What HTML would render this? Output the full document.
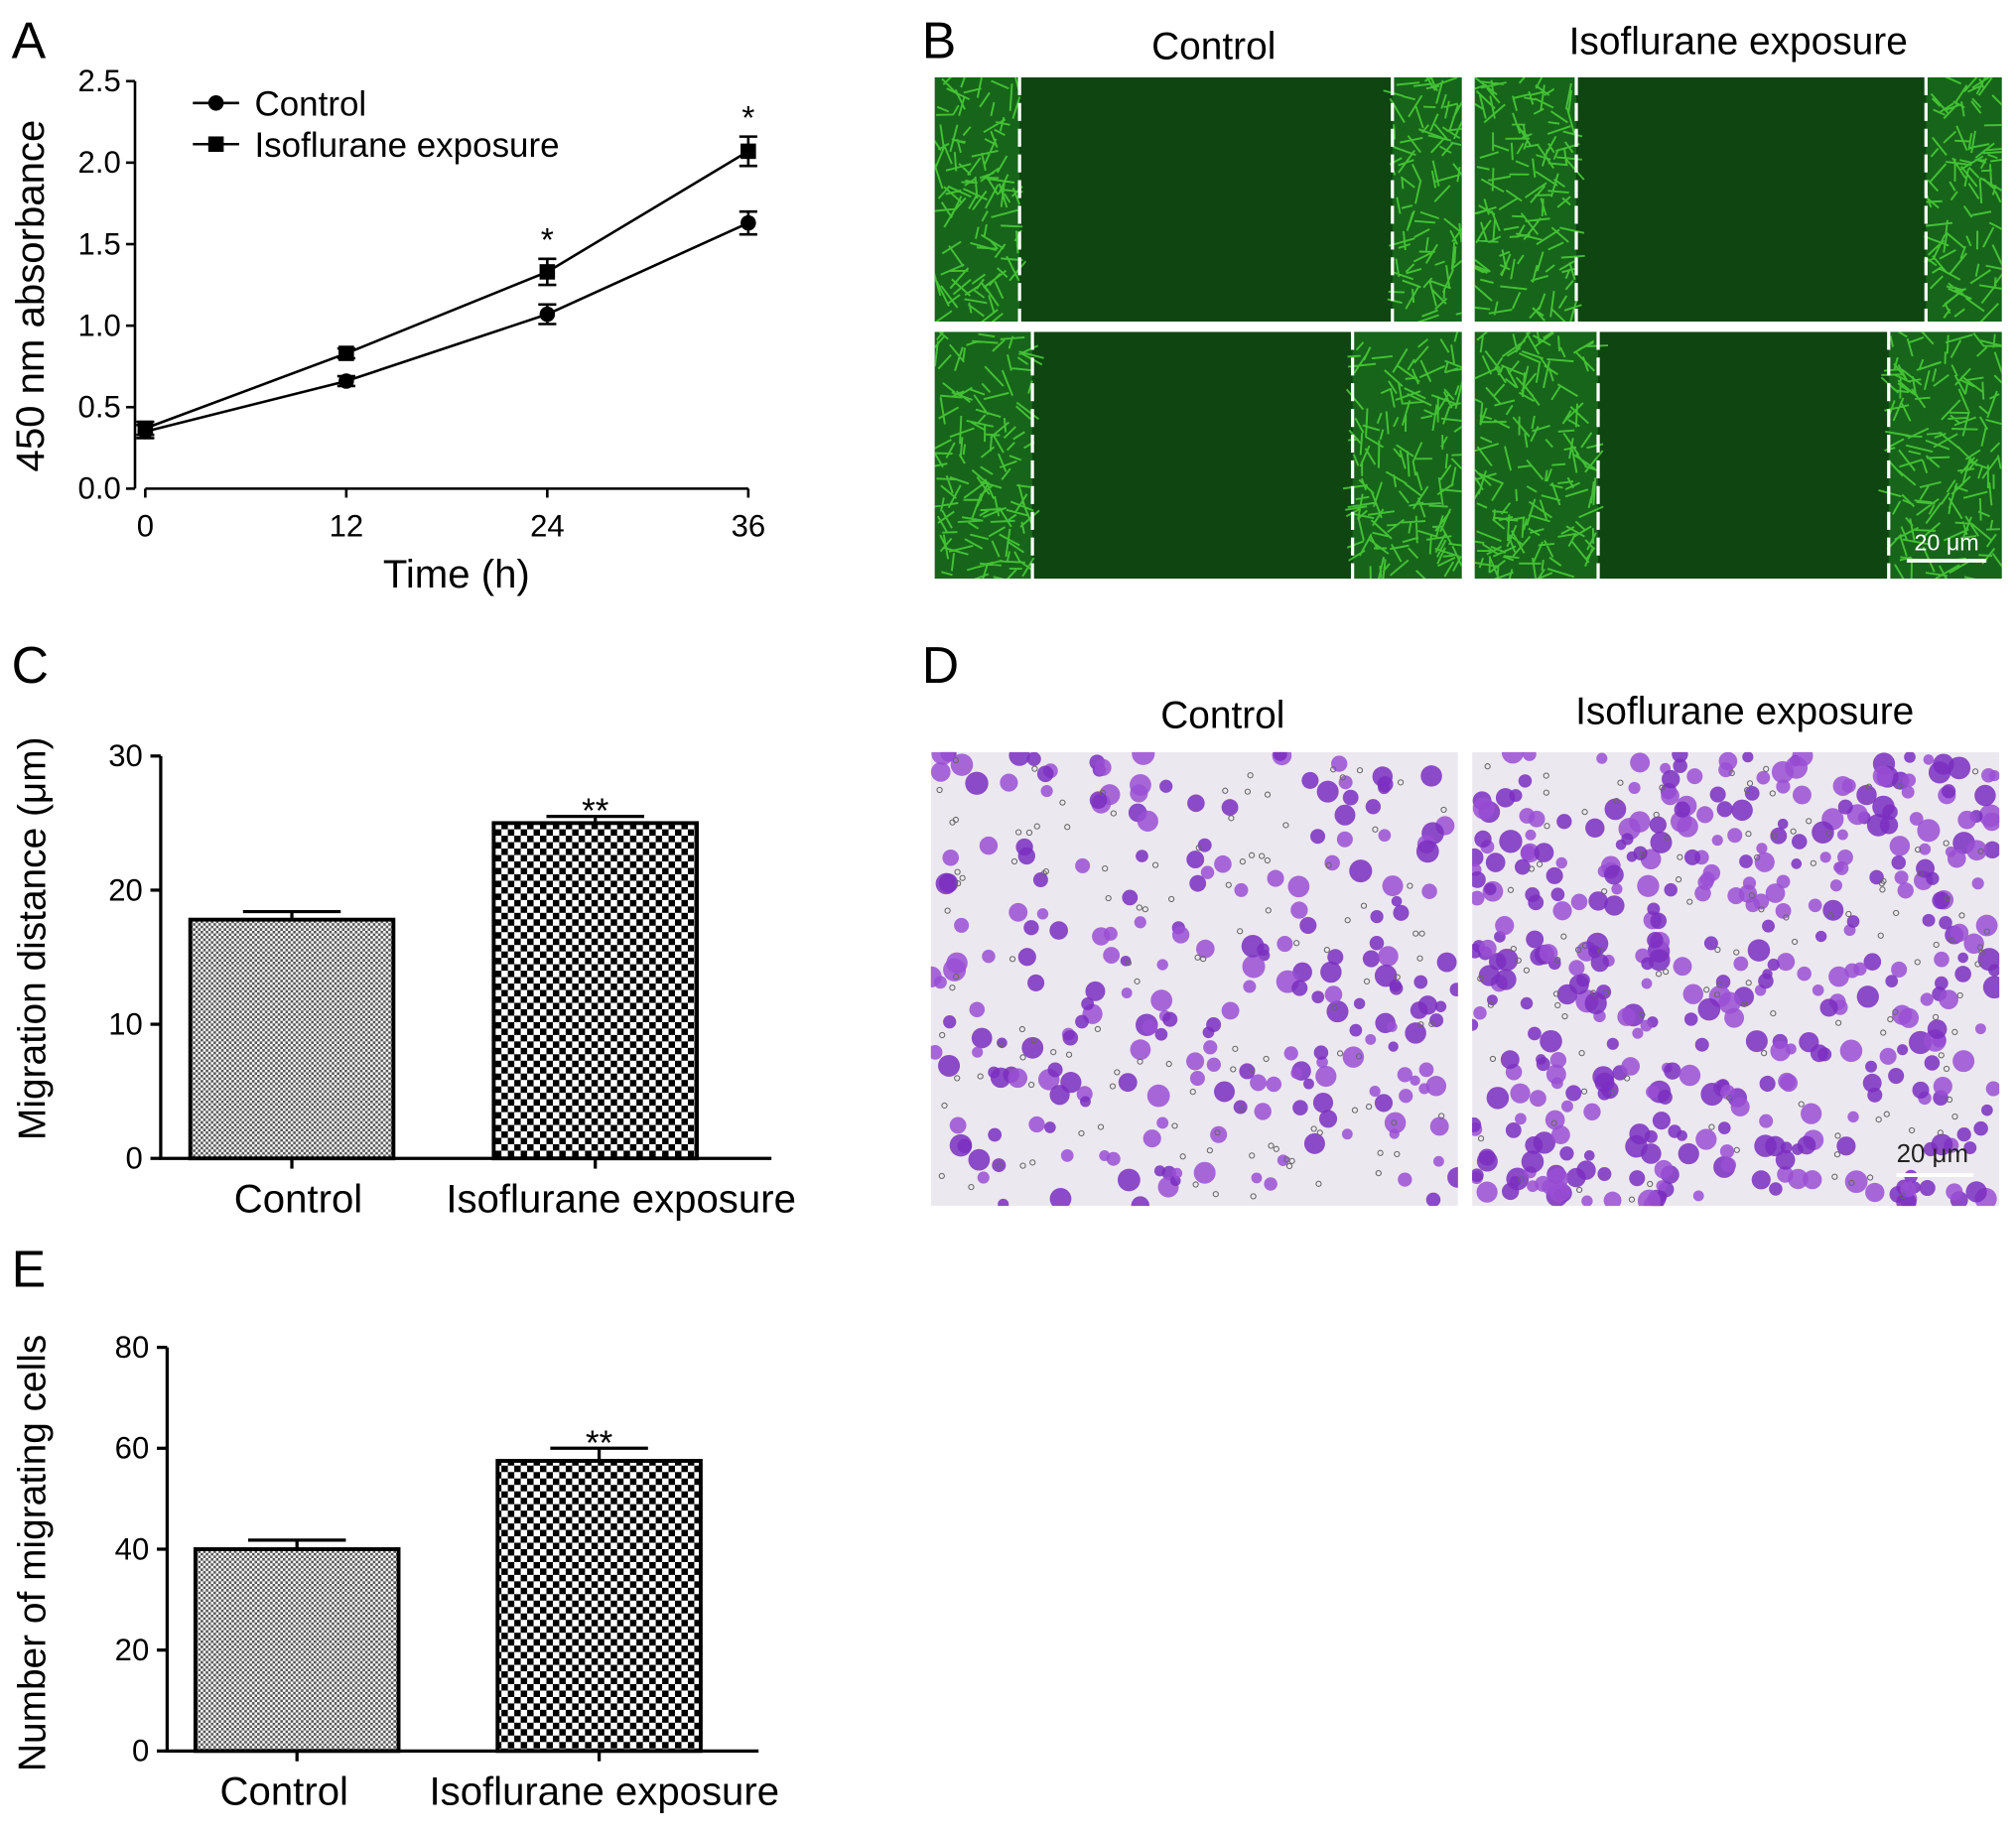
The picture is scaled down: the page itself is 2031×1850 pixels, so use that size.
<!DOCTYPE html>
<html><head><meta charset="utf-8">
<style>
html,body{margin:0;padding:0;background:#fff;}
svg{display:block;font-family:"Liberation Sans",sans-serif;}
</style></head>
<body>
<svg id="fig" width="2031" height="1850" viewBox="0 0 1568 1428" xmlns="http://www.w3.org/2000/svg">
<defs>
<pattern id="fine" width="4" height="4" patternUnits="userSpaceOnUse">
<rect width="4" height="4" fill="#fff"/><rect width="2" height="2" fill="#555"/><rect x="2" y="2" width="2" height="2" fill="#555"/>
</pattern>
<pattern id="coarse" width="10" height="10" patternUnits="userSpaceOnUse">
<rect width="10" height="10" fill="#fff"/><rect width="5" height="5" fill="#000"/><rect x="5" y="5" width="5" height="5" fill="#000"/>
</pattern>
</defs>
<g id="letters" font-size="40" fill="#000">
<text x="9" y="45">A</text>
<text x="717" y="45">B</text>
<text x="9" y="531">C</text>
<text x="717" y="531">D</text>
<text x="9" y="1001">E</text>
</g>
<g id="panelA"></g>
<g id="panelB"></g>
<g id="panelC"></g>
<g id="panelD"></g>
<g id="panelE"></g>
</svg>
<script>
// ---- Panel A data
const timePoints = [0, 12, 24, 36];
const controlAbs = [0.35, 0.66, 1.07, 1.63];
const controlErr = [0.04, 0.03, 0.06, 0.07];
const isoAbs = [0.37, 0.83, 1.33, 2.07];
const isoErr = [0.04, 0.03, 0.08, 0.09];
const absTicks = ["0.0","0.5","1.0","1.5","2.0","2.5"];
const timeTicks = ["0","12","24","36"];
const sigA = ["", "", "*", "*"];
// ---- Panel C data
const catsC = ["Control", "Isoflurane exposure"];
const distVals = [17.8, 25.0];
const distErr = [0.6, 0.5];
const distTicks = ["0","10","20","30"];
const sigC = ["", "**"];
// ---- Panel E data
const catsE = ["Control", "Isoflurane exposure"];
const cellVals = [40, 57.5];
const cellErr = [1.8, 2.5];
const cellTicks = ["0","20","40","60","80"];
const sigE = ["", "**"];

const NS = "http://www.w3.org/2000/svg";
function mk(parent, tag, attrs, text){
  const e = document.createElementNS(NS, tag);
  for (const k in attrs) e.setAttribute(k, attrs[k]);
  if (text !== undefined) e.textContent = text;
  parent.appendChild(e);
  return e;
}

// ===== Panel A
(function(){
  const g = document.getElementById('panelA');
  const x = t => 113 + (t - 0) / 36 * (582 - 113);
  const y = v => 380 - v / 2.5 * (380 - 63);
  const ax = mk(g,'path',{d:`M105 ${y(2.5)} V380 M113 380 H582`,stroke:'#000','stroke-width':2,fill:'none'});
  
  
  absTicks.forEach(t=>{
    const v = parseFloat(t);
    mk(g,'line',{x1:98,x2:105,y1:y(v),y2:y(v),stroke:'#000','stroke-width':2});
    const tl = mk(g,'text',{x:94,y:y(v)+8,'font-size':24,'text-anchor':'end'},t);
    
    
  });
  timeTicks.forEach(t=>{
    const v = parseFloat(t);
    mk(g,'line',{x1:x(v),x2:x(v),y1:380,y2:387,stroke:'#000','stroke-width':2});
    const tl = mk(g,'text',{x:x(v),y:417,'font-size':24,'text-anchor':'middle'},t);
    
    
  });
  const xt = mk(g,'text',{x:355,y:457,'font-size':31,'text-anchor':'middle'},'Time (h)');
  
  
  const yt = mk(g,'text',{x:0,y:0,'font-size':31,'text-anchor':'middle',transform:'translate(34,230) rotate(-90)'},'450 nm absorbance');
  
  
  function series(vals, errs, marker, name){
    const pts = timePoints.map((t,i)=>`${x(t)},${y(vals[i])}`).join(' ');
    const l = mk(g,'polyline',{points:pts,fill:'none',stroke:'#000','stroke-width':2});
    
    
    timePoints.forEach((t,i)=>{
      const cx=x(t), cy=y(vals[i]), e=errs[i];
      mk(g,'path',{d:`M${cx} ${y(vals[i]+e)} V${y(vals[i]-e)} M${cx-7} ${y(vals[i]+e)} H${cx+7} M${cx-7} ${y(vals[i]-e)} H${cx+7}`,stroke:'#000','stroke-width':2,fill:'none'});
      let m;
      if(marker==='c') m = mk(g,'circle',{cx:cx,cy:cy,r:6,fill:'#000'});
      else m = mk(g,'rect',{x:cx-6,y:cy-6,width:12,height:12,fill:'#000'});
      
      
    });
  }
  series(controlAbs, controlErr, 'c', 'control');
  series(isoAbs, isoErr, 's', 'isoflurane');
  timePoints.forEach((t,i)=>{
    if(!sigA[i]) return;
    const s = mk(g,'text',{x:x(t),y:y(isoAbs[i]+isoErr[i])-6,'font-size':26,'text-anchor':'middle'},sigA[i]);
    
    
  });
  // legend
  mk(g,'line',{x1:150,x2:186,y1:80,y2:80,stroke:'#000','stroke-width':2});
  mk(g,'circle',{cx:168,cy:80,r:6,fill:'#000'});
  const l1 = mk(g,'text',{x:198,y:90,'font-size':27},'Control');
  
  
  mk(g,'line',{x1:150,x2:186,y1:112,y2:112,stroke:'#000','stroke-width':2});
  mk(g,'rect',{x:162,y:106,width:12,height:12,fill:'#000'});
  const l2 = mk(g,'text',{x:198,y:122,'font-size':27},'Isoflurane exposure');
  
  
})();

// deterministic generator for image texture
let seed = 12345;
function rnd(){ seed = (seed*1103515245 + 12345) % 2147483648; return seed/2147483648; }

// ===== Panel B
(function(){
  const g = document.getElementById('panelB');
  const defs = document.querySelector('defs');
  const t1 = mk(g,'text',{x:944,y:46,'font-size':30,'text-anchor':'middle'},'Control');
  
  
  const t2 = mk(g,'text',{x:1352,y:42,'font-size':30,'text-anchor':'middle'},'Isoflurane exposure');
  
  
  const imgs = [
    [727,60,410,190,793,1083,'wound-control-0h'],
    [1147,60,410,190,1226,1498,'wound-isoflurane-0h'],
    [727,258,410,192,803,1052,'wound-control-24h'],
    [1147,258,410,192,1243,1469,'wound-isoflurane-24h']
  ];
  imgs.forEach(([x0,y0,w,h,a,b,name],k)=>{
    const cp = mk(defs,'clipPath',{id:'clipB'+k});
    mk(cp,'rect',{x:x0,y:y0,width:w,height:h});
    const gg = mk(g,'g',{'clip-path':`url(#clipB${k})`});
    
    
    mk(gg,'rect',{x:x0,y:y0,width:w,height:h,fill:'#0e4510'});
    mk(gg,'rect',{x:x0,y:y0,width:a-x0,height:h,fill:'#17651a'});
    mk(gg,'rect',{x:b,y:y0,width:x0+w-b,height:h,fill:'#17651a'});
    let d='';
    [[x0,a],[b,x0+w]].forEach(([s,e])=>{
      const n = Math.floor((e-s)*h/110);
      for(let i=0;i<n;i++){
        const cx=s+rnd()*(e-s), cy=y0+rnd()*h, ang=rnd()*Math.PI, L=4+rnd()*7;
        d+=`M${(cx-Math.cos(ang)*L).toFixed(1)} ${(cy-Math.sin(ang)*L).toFixed(1)}L${(cx+Math.cos(ang)*L).toFixed(1)} ${(cy+Math.sin(ang)*L).toFixed(1)}`;
      }
    });
    mk(gg,'path',{d:d,stroke:'#4fd83c','stroke-width':1.5,fill:'none',opacity:0.8});
    mk(gg,'line',{x1:a,x2:a,y1:y0,y2:y0+h,stroke:'#fff','stroke-width':2.5,'stroke-dasharray':'14 6'});
    mk(gg,'line',{x1:b,x2:b,y1:y0,y2:y0+h,stroke:'#fff','stroke-width':2.5,'stroke-dasharray':'14 6'});
  });
  mk(g,'line',{x1:1483,x2:1545,y1:436,y2:436,stroke:'#fff','stroke-width':3});
  const sb = mk(g,'text',{x:1514,y:428,'font-size':18,'text-anchor':'middle',fill:'#fff'},'20 μm');
  
  
})();

// ===== Bar chart helper
function barChart(gid, cats, vals, errs, ticks, sig, cfg){
  const g = document.getElementById(gid);
  const y = v => cfg.y0 - v / cfg.max * (cfg.y0 - cfg.yTop);
  const ax = mk(g,'path',{d:`M${cfg.ax} ${y(cfg.max)} V${cfg.y0} H${cfg.xEnd}`,stroke:'#000','stroke-width':2.5,fill:'none'});
  
  
  ticks.forEach(t=>{
    const v=parseFloat(t);
    mk(g,'line',{x1:cfg.ax-8,x2:cfg.ax,y1:y(v),y2:y(v),stroke:'#000','stroke-width':2.5});
    const tl = mk(g,'text',{x:cfg.ax-14,y:y(v)+8,'font-size':24,'text-anchor':'end'},t);
    
    
  });
  const fills=['url(#fine)','url(#coarse)'];
  cats.forEach((c,i)=>{
    const x0=cfg.bx[i], w=cfg.bw, cx=x0+w/2;
    const b = mk(g,'rect',{x:x0,y:y(vals[i]),width:w,height:cfg.y0-y(vals[i]),fill:fills[i],stroke:'#000','stroke-width':3});
    
    
    mk(g,'path',{d:`M${cx} ${y(vals[i])} V${y(vals[i]+errs[i])} M${cx-38} ${y(vals[i]+errs[i])} H${cx+38}`,stroke:'#000','stroke-width':2.5,fill:'none'});
    mk(g,'line',{x1:cx,x2:cx,y1:cfg.y0,y2:cfg.y0+8,stroke:'#000','stroke-width':2.5});
    const tl = mk(g,'text',{x:cx+cfg.lblOff[i],y:cfg.y0+42,'font-size':31,'text-anchor':'middle'},c);
    
    
    if(sig[i]){
      const s = mk(g,'text',{x:cx,y:y(vals[i]+errs[i])+5,'font-size':27,'text-anchor':'middle'},sig[i]);
      
      
    }
  });
  const yt = mk(g,'text',{x:0,y:0,'font-size':30,'text-anchor':'middle',transform:`translate(35,${cfg.ymid}) rotate(-90)`},cfg.title);
  
  
}
barChart('panelC', catsC, distVals, distErr, distTicks, sigC,
  {y0:901,yTop:588,max:30,ax:125,xEnd:600,bx:[148,384],bw:158,ymid:730,title:'Migration distance (μm)',lblOff:[5,20]});
barChart('panelE', catsE, cellVals, cellErr, cellTicks, sigE,
  {y0:1362,yTop:1048,max:80,ax:130,xEnd:590,bx:[152,387],bw:158,ymid:1208,title:'Number of migrating cells',lblOff:[-10,4]});

// ===== Panel D
(function(){
  const g = document.getElementById('panelD');
  const defs = document.querySelector('defs');
  const t1 = mk(g,'text',{x:951,y:566,'font-size':30,'text-anchor':'middle'},'Control');
  
  
  const t2 = mk(g,'text',{x:1357,y:563,'font-size':30,'text-anchor':'middle'},'Isoflurane exposure');
  
  
  [[724,'transwell-control',230],[1145,'transwell-isoflurane',420]].forEach(([x0,name,n],k)=>{
    const cp = mk(defs,'clipPath',{id:'clipD'+k});
    mk(cp,'rect',{x:x0,y:585,width:410,height:353});
    const gg = mk(g,'g',{'clip-path':`url(#clipD${k})`});
    
    
    mk(gg,'rect',{x:x0,y:585,width:410,height:353,fill:'#ece8ef'});
    for(let i=0;i<n;i++){
      const cx=x0+rnd()*410, cy=585+rnd()*353, r=4+rnd()*5;
      mk(gg,'circle',{cx:cx.toFixed(1),cy:cy.toFixed(1),r:r.toFixed(1),fill:rnd()<0.5?'#7a2ec0':'#9a4fd4',opacity:0.85});
    }
    for(let i=0;i<120;i++){
      mk(gg,'circle',{cx:(x0+5+rnd()*400).toFixed(1),cy:(590+rnd()*343).toFixed(1),r:2,fill:'none',stroke:'#666','stroke-width':0.8});
    }
  });
  mk(g,'line',{x1:1475,x2:1535,y1:914,y2:914,stroke:'#fff','stroke-width':3});
  const sb = mk(g,'text',{x:1503,y:904,'font-size':20,'text-anchor':'middle',fill:'#222'},'20 μm');
  
  
})();
</script>
</body></html>
